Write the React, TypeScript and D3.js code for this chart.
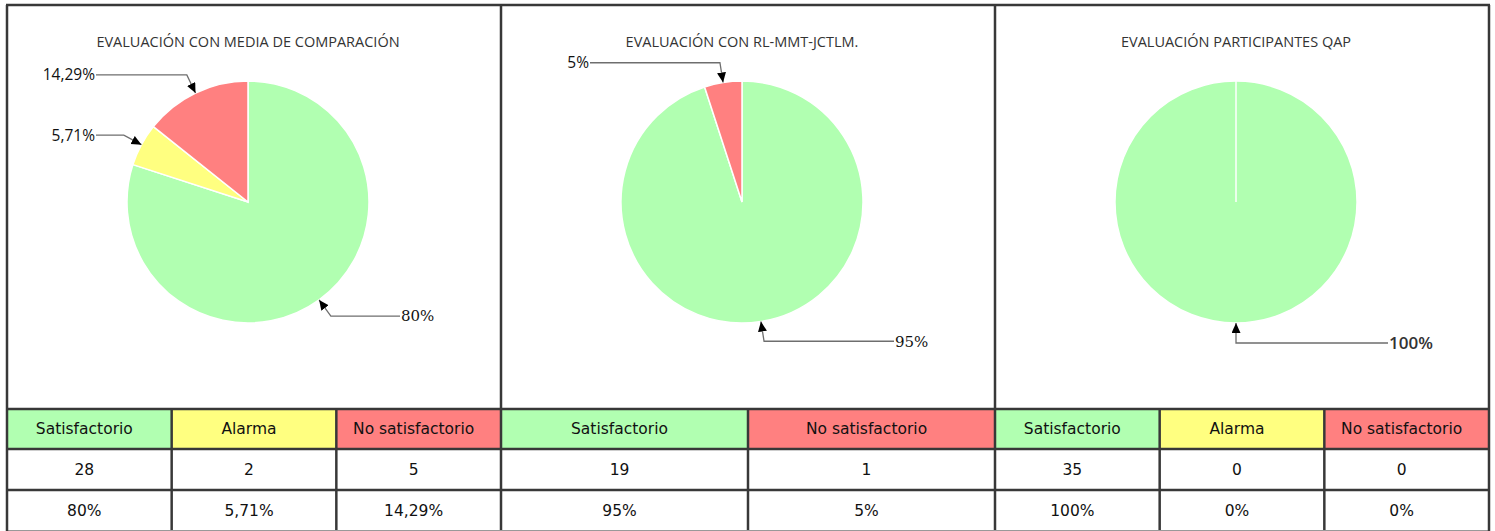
import React from "react";
import * as d3 from "d3";

const titles = [
  "EVALUACIÓN CON MEDIA DE COMPARACIÓN",
  "EVALUACIÓN CON RL-MMT-JCTLM.",
  "EVALUACIÓN PARTICIPANTES QAP",
];
const categories1 = ["Satisfactorio", "Alarma", "No satisfactorio"];
const counts1 = [28, 2, 5];
const pct1 = ["80%", "5,71%", "14,29%"];
const categories2 = ["Satisfactorio", "No satisfactorio"];
const counts2 = [19, 1];
const pct2 = ["95%", "5%"];
const categories3 = ["Satisfactorio", "Alarma", "No satisfactorio"];
const counts3 = [35, 0, 0];
const pct3 = ["100%", "0%", "0%"];

const colorOf: Record<string, string> = {
  Satisfactorio: "#B1FFB1",
  Alarma: "#FFFF80",
  "No satisfactorio": "#FF8080",
};

const panels = [
  { title: titles[0], cats: categories1, counts: counts1, pct: pct1 },
  { title: titles[1], cats: categories2, counts: counts2, pct: pct2 },
  { title: titles[2], cats: categories3, counts: counts3, pct: pct3 },
];

const W = 1495;
const H = 531;
const L = 7;
const R = 1489;
const TOP = 5;
const TABLE_TOP = 409;
const ROW_H = [40, 41, 41];
const BORDER = "#383838";
const CELL_SHIFT = -5;

export default function App() {
  const pw = (R - L) / 3;
  const radius = 121;
  const cy = 202;
  const elbowR = 141;
  const labelDx = 152;

  const pie = d3
    .pie<number>()
    .sort(null)
    .value((d) => d)
    .startAngle(0)
    .endAngle(2 * Math.PI);
  const arc = d3.arc<d3.PieArcDatum<number>>().innerRadius(0).outerRadius(radius);

  const rowY = [TABLE_TOP, TABLE_TOP + ROW_H[0], TABLE_TOP + ROW_H[0] + ROW_H[1], TABLE_TOP + ROW_H[0] + ROW_H[1] + ROW_H[2]];

  const cellText = (x: number, y: number, s: string | number) => (
    <text
      x={x}
      y={y}
      dy="0.35em"
      textAnchor="middle"
      fontFamily="'DejaVu Sans', sans-serif"
      fontSize={15.5}
      fill="#111"
    >
      {s}
    </text>
  );

  return (
    <svg
      width={W}
      height={H}
      style={{ position: "absolute", left: 0, top: 0, background: "#fff" }}
    >
      <defs>
        <marker
          id="arrow"
          markerUnits="userSpaceOnUse"
          markerWidth={12}
          markerHeight={12}
          refX={10}
          refY={4.5}
          orient="auto"
        >
          <path d="M0,0 L10,4.5 L0,9 Z" fill="#000" />
        </marker>
      </defs>
      <rect x={0} y={0} width={W} height={H} fill="#fff" />
      {panels.map((p, pi) => {
        const x0 = L + pi * pw;
        const cx = x0 + pw / 2 - 6;
        const arcs = pie(p.counts);
        const total = d3.sum(p.counts);
        const colW = pw / p.cats.length;
        return (
          <g key={pi}>
            <text
              x={cx}
              y={47}
              textAnchor="middle"
              fontFamily="'Open Sans', sans-serif"
              fontSize={14.5}
              fill="#333"
              fontWeight={400}
            >
              {p.title}
            </text>
            <g transform={`translate(${cx},${cy})`}>
              {arcs.map((a, i) =>
                a.value > 0 ? (
                  <path
                    key={i}
                    d={arc(a) || ""}
                    fill={colorOf[p.cats[i]]}
                    stroke="#fff"
                    strokeWidth={1.5}
                  />
                ) : null
              )}
              {arcs.filter((a) => a.value > 0).length === 1 && (
                <line x1={0} y1={0} x2={0} y2={-radius} stroke="#fff" strokeWidth={1.5} />
              )}
            </g>
            {arcs.map((a, i) => {
              if (a.value <= 0) return null;
              const mid = (a.startAngle + a.endAngle) / 2;
              const tx = cx + radius * Math.sin(mid);
              const ty = cy - radius * Math.cos(mid);
              const ex = cx + elbowR * Math.sin(mid);
              const ey = cy - elbowR * Math.cos(mid);
              const right = Math.sin(mid) >= -1e-6;
              const lx = right ? cx + labelDx : cx - labelDx;
              const full = p.counts[i] === total;
              const isSans = !right || full;
              return (
                <g key={"l" + i}>
                  <path
                    d={`M${lx},${ey} L${ex},${ey} L${tx},${ty}`}
                    fill="none"
                    stroke="#6e6e6e"
                    strokeWidth={1.3}
                    markerEnd="url(#arrow)"
                  />
                  <text
                    x={right ? lx + 1 : lx - 1}
                    y={ey}
                    dy="0.35em"
                    textAnchor={right ? "start" : "end"}
                    fontFamily={isSans ? "'Open Sans', sans-serif" : "'DejaVu Serif', serif"}
                    fontWeight={isSans ? (full ? 600 : 500) : 400}
                    fontSize={full ? 17 : isSans ? 15.5 : 15}
                    fill={full ? "#333" : "#111"}
                  >
                    {p.pct[i]}
                  </text>
                </g>
              );
            })}
            {p.cats.map((c, ci) => {
              const cxl = x0 + ci * colW;
              const tx = cxl + colW / 2 + CELL_SHIFT;
              return (
                <g key={"t" + ci}>
                  <rect
                    x={cxl}
                    y={rowY[0]}
                    width={colW}
                    height={ROW_H[0]}
                    fill={colorOf[c]}
                  />
                  {cellText(tx, rowY[0] + ROW_H[0] / 2, c)}
                  {cellText(tx, rowY[1] + ROW_H[1] / 2, p.counts[ci])}
                  {cellText(tx, rowY[2] + ROW_H[2] / 2, p.pct[ci])}
                  {ci > 0 && (
                    <line
                      x1={cxl}
                      x2={cxl}
                      y1={rowY[0]}
                      y2={H}
                      stroke={BORDER}
                      strokeWidth={2.5}
                    />
                  )}
                </g>
              );
            })}
            {pi > 0 && (
              <line x1={x0} x2={x0} y1={TOP} y2={H} stroke={BORDER} strokeWidth={2.5} />
            )}
          </g>
        );
      })}
      {[rowY[0], rowY[1], rowY[2]].map((y, i) => (
        <line key={"h" + i} x1={L} x2={R} y1={y} y2={y} stroke={BORDER} strokeWidth={2.5} />
      ))}
      <line x1={L} x2={R} y1={H - 0.5} y2={H - 0.5} stroke="#999" strokeWidth={1} />
      <line x1={L - 1} x2={R + 1} y1={TOP} y2={TOP} stroke={BORDER} strokeWidth={2.5} />
      <line x1={L} x2={L} y1={TOP} y2={H} stroke={BORDER} strokeWidth={2.5} />
      <line x1={R} x2={R} y1={TOP} y2={H} stroke={BORDER} strokeWidth={2.5} />
    </svg>
  );
}
